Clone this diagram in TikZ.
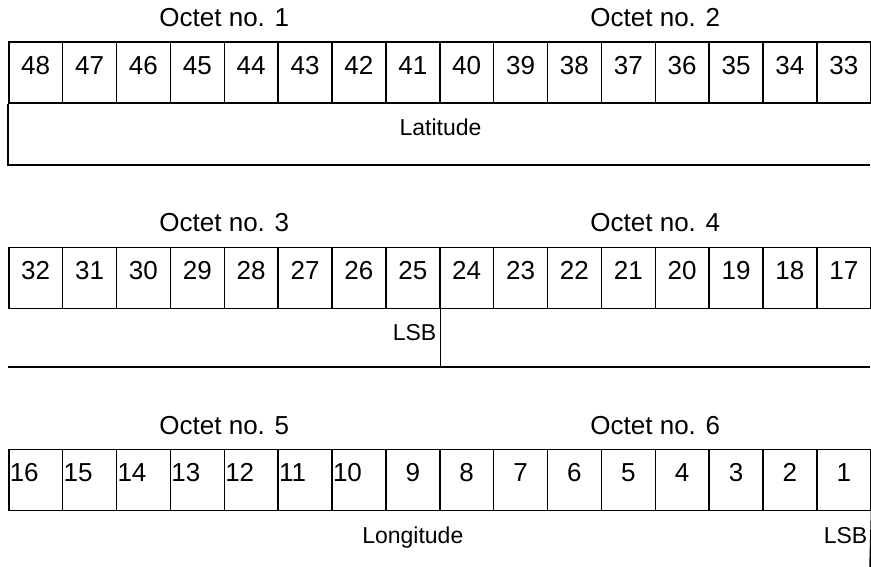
\documentclass[tikz,border=0pt]{standalone}
\usepackage{fontspec}
\setmainfont{Liberation Sans}
\usepackage{tikz}
\usetikzlibrary{positioning, calc}
\tikzset{
  cell/.style={
    draw, line width=1.5pt, anchor=north west,
    minimum width=53.875pt, inner xsep=0pt, inner ysep=0pt,
    text height=32pt, text depth=29pt,
    font=\fontsize{26}{30}\selectfont
  },
  octet/.style={inner sep=0pt, anchor=base, font=\fontsize{26}{30}\selectfont},
  field/.style={inner sep=0pt, anchor=base, font=\fontsize{23}{27}\selectfont},
  rule/.style={line width=1.5pt}
}

\begin{document}
\begin{tikzpicture}[x=1pt, y=-1pt]
\useasboundingbox (0,0) rectangle (871,567);

%% ── Octets 1 and 2 ───────────────────────────────────────────
\foreach \i in {0,...,15}{
  \pgfmathtruncatemacro{\n}{48-\i}
  \node[cell] (c\n) at (8+\i*53.875, 41.5) {\n};
}
\node[octet] (oct1) at ($(c48.north west)!.5!(c41.north east)+(0,-14.5)$) {Octet no. 1};
\node[octet] (oct2) at ($(c40.north west)!.5!(c33.north east)+(0,-14.5)$) {Octet no. 2};

\coordinate (latsw) at (8,165);
\coordinate (latse) at (870,165);
\draw[rule] (c48.south west) -- (latsw) -- (latse);
\node[field] (lat) at ([yshift=-31.5pt]c41.south east) {Latitude};

%% ── Octets 3 and 4 ───────────────────────────────────────────
\foreach \i in {0,...,15}{
  \pgfmathtruncatemacro{\n}{32-\i}
  \node[cell] (c\n) at (8+\i*53.875, 246.5) {\n};
}
\node[octet] (oct3) at ($(c32.north west)!.5!(c25.north east)+(0,-14.5)$) {Octet no. 3};
\node[octet] (oct4) at ($(c24.north west)!.5!(c17.north east)+(0,-14.5)$) {Octet no. 4};

\coordinate (midsw) at (8,367);
\coordinate (midse) at (870,367);
\draw[rule] (midsw) -- (midse);
\draw[rule] (c25.south east) -- (c25.south east |- midsw);
\node[field, anchor=base east, xshift=-4pt] (lsba) at ([yshift=-31pt]c25.south east) {LSB};

%% ── Octets 5 and 6 ───────────────────────────────────────────
\foreach \i in {0,...,15}{
  \pgfmathtruncatemacro{\n}{16-\i}
  \node[cell] (c\n) at (8+\i*53.875, 448.5)
    {\ifnum\n>9 \makebox[51.875pt][l]{\n}\else\n\fi};
}
\node[octet] (oct5) at ($(c16.north west)!.5!(c9.north east)+(0,-14.5)$) {Octet no. 5};
\node[octet] (oct6) at ($(c8.north west)!.5!(c1.north east)+(0,-14.5)$) {Octet no. 6};

\coordinate (lonend) at (870,567);
\draw[rule] (c1.south east) -- (lonend);
\node[field] (lon) at ([yshift=-32pt]c9.south) {Longitude};
\node[field, anchor=base east, xshift=-4pt] (lsbb) at ([yshift=-32pt]c1.south east) {LSB};

\end{tikzpicture}
\end{document}
